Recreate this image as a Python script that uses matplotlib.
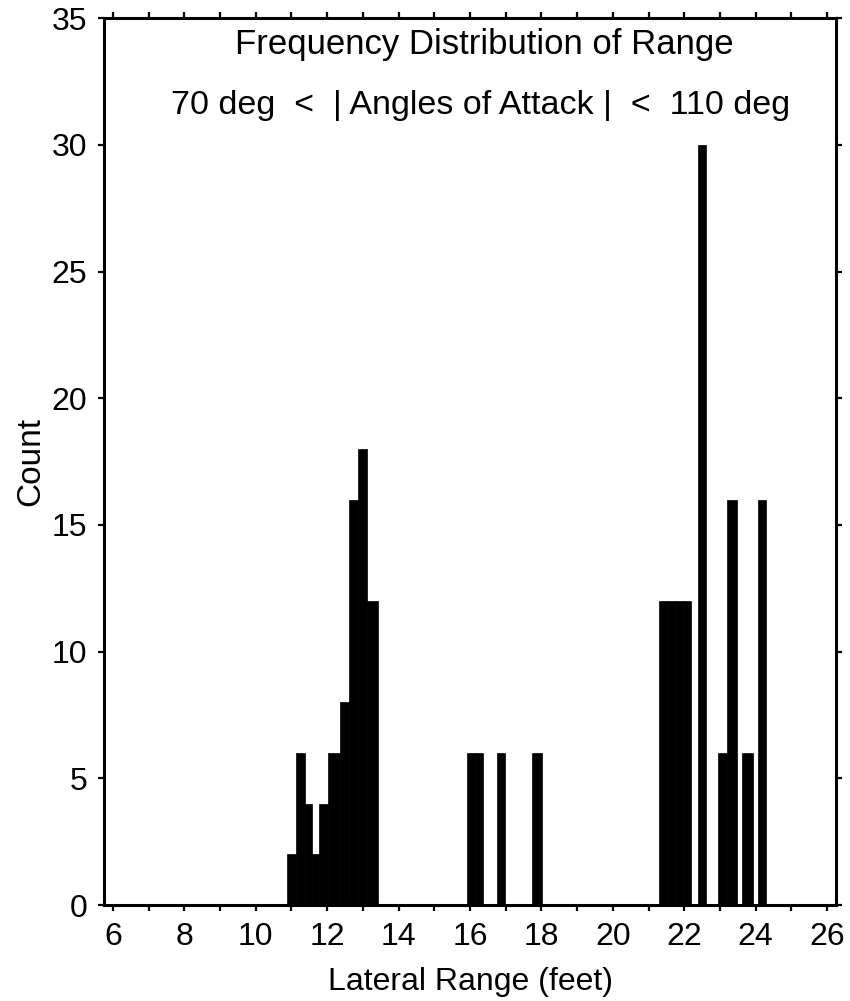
import matplotlib
matplotlib.use("Agg")
import matplotlib.pyplot as plt
from matplotlib.ticker import MultipleLocator

plt.rcParams['font.family'] = ['Liberation Sans', 'DejaVu Sans']

# Histogram bins: left edge, right edge (feet), count
bin_left = [10.88, 11.13, 11.38, 11.57, 11.78, 12.02, 12.36, 12.61, 12.85, 13.11,
            15.91, 16.14, 16.75, 17.75,
            21.28, 21.51, 21.74, 21.97, 22.39, 22.95, 23.20, 23.62, 24.07]
bin_right = [11.13, 11.38, 11.57, 11.78, 12.02, 12.36, 12.61, 12.85, 13.11, 13.43,
             16.14, 16.37, 16.99, 18.03,
             21.51, 21.74, 21.97, 22.19, 22.61, 23.20, 23.48, 23.93, 24.30]
counts = [2, 6, 4, 2, 4, 6, 8, 16, 18, 12,
          6, 6, 6, 6,
          12, 12, 12, 12, 30, 6, 16, 6, 16]

x_ticks = [6, 8, 10, 12, 14, 16, 18, 20, 22, 24, 26]
y_ticks = [0, 5, 10, 15, 20, 25, 30, 35]

title_lines = ["Frequency Distribution of Range",
               "70 deg  <  | Angles of Attack |  <  110 deg"]

fig = plt.figure(figsize=(8.5, 10.01), dpi=100)
ax = fig.add_axes([0.1224, 0.0959, 0.8611, 0.8858])

widths = [r - l for l, r in zip(bin_left, bin_right)]
ax.bar(bin_left, counts, width=widths, align='edge', color='black',
       edgecolor='black', linewidth=0.5)

ax.set_xlim(5.75, 26.25)
ax.set_ylim(0, 35)
ax.set_xticks(x_ticks)
ax.xaxis.set_minor_locator(MultipleLocator(1))
ax.set_yticks(y_ticks)

for s in ax.spines.values():
    s.set_linewidth(2.2)
    s.set_color('black')

ax.tick_params(axis='both', which='both', direction='out', top=True, right=True,
               width=1.6, color='black')
ax.tick_params(axis='both', which='major', length=4, labelsize=23)
ax.tick_params(axis='both', which='minor', length=4)
ax.tick_params(axis='x', which='major', pad=8)
ax.tick_params(axis='y', which='major', pad=8)

ax.set_xlabel("Lateral Range (feet)", fontsize=23, labelpad=11)
ax.set_ylabel("Count", fontsize=24, labelpad=4)

ax.text(0.52, 0.970, title_lines[0], transform=ax.transAxes, ha='center',
        va='center', fontsize=25)
ax.text(0.515, 0.902, title_lines[1], transform=ax.transAxes, ha='center',
        va='center', fontsize=24.5)

fig.savefig("out.png", dpi=100)
